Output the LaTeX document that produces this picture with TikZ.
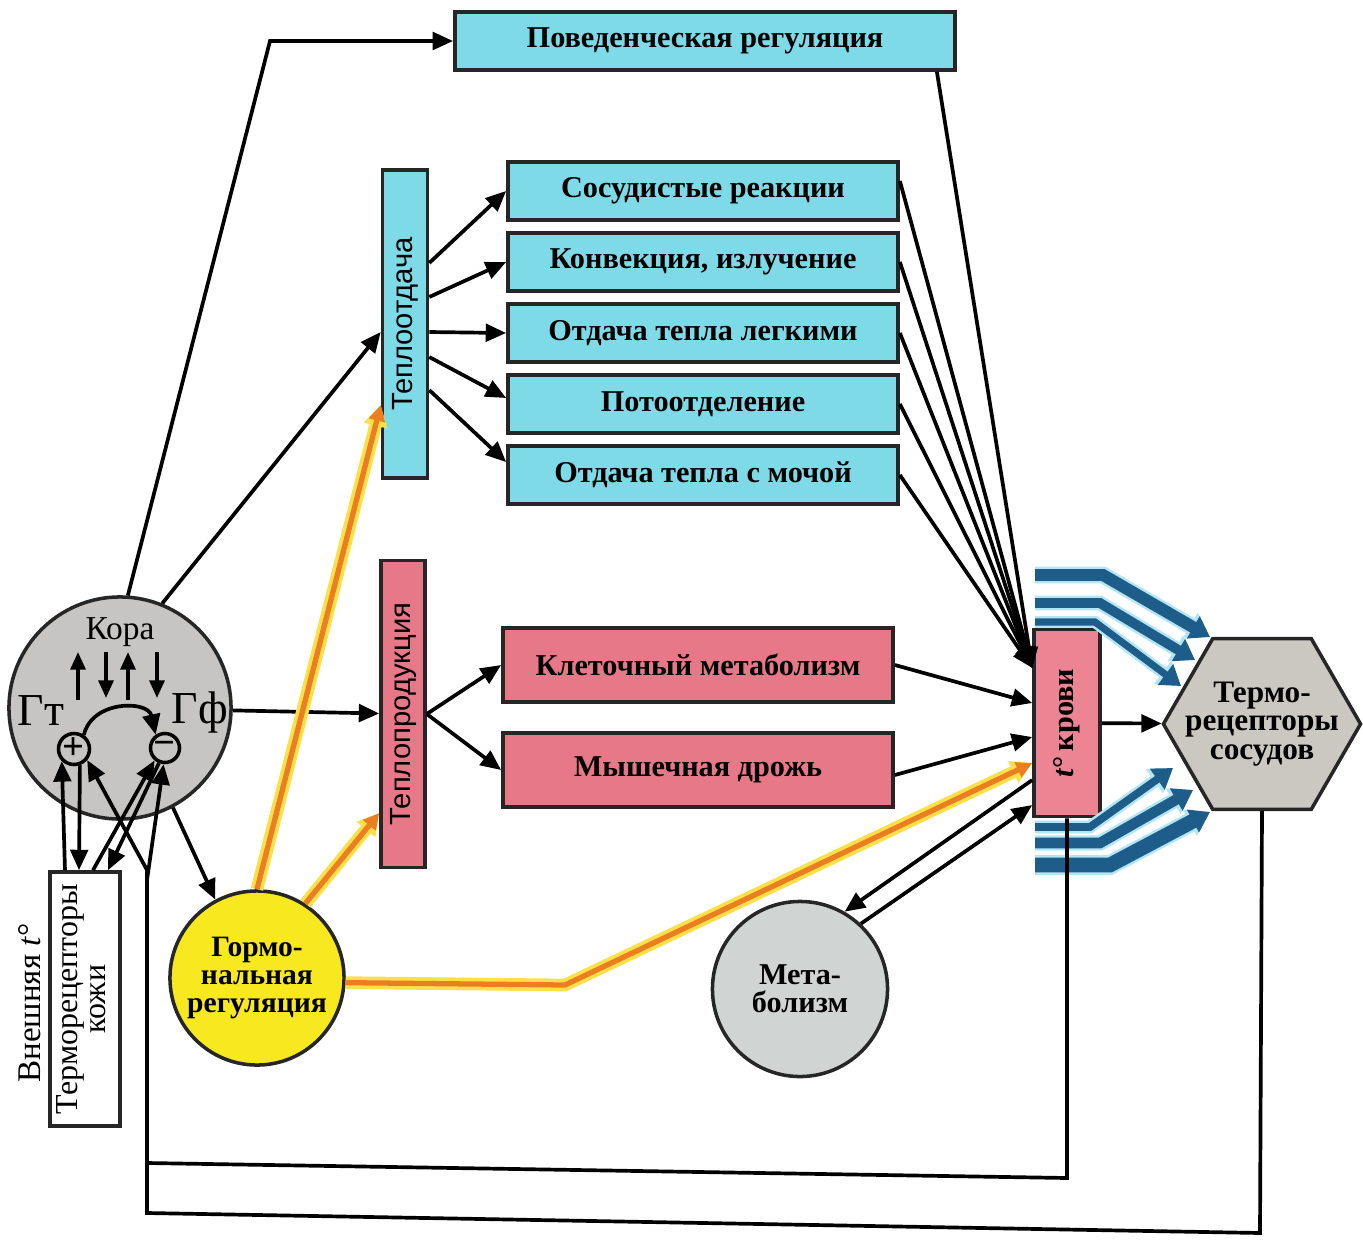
\documentclass[tikz,border=0pt]{standalone}
\usepackage{graphicx}
\usepackage{fontspec}
\setmainfont{Liberation Serif}
\setsansfont{Liberation Sans}
\usetikzlibrary{arrows.meta,shapes.geometric}
\definecolor{boxcyan}{RGB}{126,218,231}
\definecolor{boxpink}{RGB}{231,120,135}
\definecolor{bloodpink}{RGB}{236,132,148}
\definecolor{hormyellow}{RGB}{247,232,32}
\definecolor{hypgray}{RGB}{198,197,195}
\definecolor{metgray}{RGB}{208,213,212}
\definecolor{hexgray}{RGB}{203,199,193}
\definecolor{flowblue}{RGB}{30,92,138}
\definecolor{glowblue}{RGB}{178,230,244}
\definecolor{hormorange}{RGB}{236,126,34}
\definecolor{glowyellow}{RGB}{252,224,74}

\begin{document}
\begin{tikzpicture}[x=0.01cm, y=-0.01cm,
        every node/.style={font=\fontsize{8.6}{7.9}\selectfont\bfseries, inner sep=0pt},
        cbox/.style={draw=black!85, line width=1pt, fill=boxcyan, minimum width=3.9cm, minimum height=0.58cm},
        pbox/.style={draw=black!85, line width=1pt, fill=boxpink, minimum width=3.9cm, minimum height=0.74cm},
        ball/.style={circle, draw=black!85, line width=1pt, align=center},
        sign/.style={circle, draw=black, line width=1pt, fill=hypgray, minimum size=0.29cm, font=\fontsize{11}{11}\selectfont\bfseries},
        arr/.style={line width=1.05pt, -{Triangle[length=5.8pt,width=5pt]}},
        hpath/.style={line width=1.5pt, draw=hormorange, line join=round,
            preaction={draw=glowyellow, line width=3.6pt, -{Triangle[length=6pt,width=6.5pt]}},
            -{Triangle[length=4.5pt,width=4.5pt]}}]
                \useasboundingbox (0,0) rectangle (1363,1248);

                \node[cbox, minimum width=5cm] (behav) at (705,41) {Поведенческая регуляция};
                \node[draw=black!85, line width=1pt, fill=boxcyan, minimum width=0.45cm, minimum height=3.08cm,
                    font=\fontsize{8.3}{9}\selectfont\sffamily] (tpo) at (405,324) {\rotatebox{90}{Теплоотдача}};
                \node[cbox] (ss) at (703,191) {Сосудистые реакции};
                \node[cbox] (conv) at (703,262) {Конвекция, излучение};
                \node[cbox] (lung) at (703,333) {Отдача тепла легкими};
                \node[cbox] (sweat) at (703,404) {Потоотделение};
                \node[cbox] (urine) at (703,475) {Отдача тепла с мочой};

                \node[draw=black!85, line width=1pt, fill=boxpink, minimum width=0.44cm, minimum height=3.07cm,
                    font=\fontsize{8.3}{9}\selectfont\sffamily] (tprod) at (403,714) {\rotatebox{90}{Теплопродукция}};
                \node[pbox] (cell) at (698,665) {Клеточный метаболизм};
                \node[pbox] (shiver) at (698,770) {Мышечная дрожь};

                \node[draw=black!85, line width=1pt, fill=bloodpink, minimum width=0.66cm, minimum height=1.87cm]
                    (tkr) at (1067,723) {\rotatebox{90}{\textit{t}°\,крови}};
                \node[regular polygon, regular polygon sides=6, draw=black!85, line width=1pt, fill=hexgray,
                    minimum size=1.97cm] (hex) at (1262,724) {};
                \node[align=center, font=\fontsize{8.9}{8}\selectfont\bfseries] (hext) at (hex.center) {Термо-\\рецепторы\\сосудов};

                \node[ball, fill=hypgray, minimum size=2.22cm] (hyp) at (120,708) {};
                \node[font=\fontsize{9.5}{10}\selectfont] (kora) at (120,632) {Кора};
                \node[font=\fontsize{13}{14}\selectfont] (gt) at (41,711) {Гт};
                \node[font=\fontsize{13}{14}\selectfont] (gf) at (200,712) {Гф};
                \node[sign] (plus) at (74,749) {+};
                \node[sign] (minus) at (165,748) {−};

                \node[ball, fill=hormyellow, minimum size=1.74cm, font=\fontsize{8.4}{7.9}\selectfont\bfseries] (horm) at (257,978) {Гормо-\\нальная\\регуляция};
                \node[ball, fill=metgray, minimum size=1.75cm, font=\fontsize{8.6}{7.9}\selectfont\bfseries] (met) at (800,989) {Мета-\\болизм};

                \node[draw=black!85, line width=1pt, fill=white, minimum width=0.7cm, minimum height=2.54cm,
                    font=\fontsize{9.1}{8}\selectfont] (skin) at (85,999)
                    {\rotatebox{90}{\begin{tabular}{@{}c@{}}Терморецепторы\\кожи\end{tabular}}};
                \node[rotate=90, font=\fontsize{9.4}{10}\selectfont] (ext) at (30,1003) {Внешняя \textit{t}°};

                \foreach \x/\ya/\yb in {78/700/652, 106/652/698, 128/700/652, 157/652/698}
                    \draw[line width=1.05pt, -{Triangle[length=5pt,width=4.2pt]}] (\x,\ya) -- (\x,\yb);
                \draw[arr] (plus.55) .. controls (92,700) and (148,700) .. (minus.125);

                \coordinate (c1) at (270,41);
                \draw[arr] (hyp.86) -- (c1) -- (behav.west);
                \draw[arr] (hyp.68) -- ([yshift=-0.08cm]tpo.west);
                \draw[arr] (hyp) -- (tprod);
                \draw[arr] (hyp.-62) -- (horm.118);

                \foreach \s/\b/\t in {0.61/ss/0, 0.27/conv/0, -0.08/lung/0, -0.33/sweat/0.06, -0.66/urine/0.13}
                    \draw[arr] ([yshift=\s cm]tpo.east) -- ([yshift=\t cm]\b.west);
                \draw[arr] (tprod.east) -- (cell.west);
                \draw[arr] (tprod.east) -- (shiver.west);

                \coordinate (tin) at ([yshift=0.55cm]tkr.west);
                \draw[arr] ([xshift=-0.2cm]behav.south east) -- (tin);
                \draw[arr] ([yshift=0.1cm]ss.east) -- (tin);
                \foreach \b in {conv, lung, sweat, urine}
                    \draw[arr] (\b.east) -- (tin);
                \draw[arr] (cell.east) -- ([yshift=0.2cm]tkr.west);
                \draw[arr] ([yshift=-0.05cm]shiver.east) -- ([yshift=-0.14cm]tkr.west);

                \draw[arr] ([yshift=-0.57cm]tkr.west) -- (met.60);
                \draw[arr] (met.47) -- ([yshift=-0.82cm]tkr.west);

                \draw[hpath] (horm.90) -- ([yshift=-0.81cm]tpo.west);
                \draw[hpath] (horm.57) -- ([yshift=-0.99cm]tprod.west);
                \coordinate (hk) at (565,985);
                \draw[hpath] (horm.-3) -- (hk) -- ([yshift=-0.40cm]tkr.west);

                \foreach \ya/\xb/\xt/\yt/\w/\g in {575/1103/1210/637/3.4/4.8, 603/1100/1195/660/2.8/4.2,
                        622/1095/1181/686/2.0/3.4, 827/1090/1173/768/2.2/3.6, 843/1100/1193/790/3.0/4.4,
                        865/1110/1210/812/4.2/5.6} {
                    \draw[glowblue, line width=\g pt, -{Triangle[length=6.5pt,width=8pt]}] (1035,\ya) -- (\xb,\ya) -- (\xt,\yt);
                    \draw[flowblue, line width=\w pt, -{Triangle[length=5.5pt,width=7pt]}] (1035,\ya) -- (\xb,\ya) -- (\xt,\yt);
                }
                \draw[arr] (tkr) -- (hex);

                \coordinate (fa) at (1067,1178);
                \coordinate (fb) at (147,1163);
                \coordinate (fc) at (147,870);
                \draw[arr] (tkr.south) -- (fa) -- (fb) -- (fc) -- (plus.-40);
                \coordinate (fd) at (1260,1233);
                \coordinate (fe) at (147,1213);
                \coordinate (ff) at (147,880);
                \draw[arr] (hex.south) -- (fd) -- (fe) -- (ff) -- (minus.-95);

                \draw[arr] ([xshift=-0.2cm]skin.north) -- (plus.-135);
                \draw[arr] (plus.-70) -- ([xshift=-0.06cm]skin.north);
                \draw[arr] ([xshift=0.08cm]skin.north) -- (minus.-130);
                \draw[arr] (minus.-112) -- ([xshift=0.23cm]skin.north);

            \end{tikzpicture}
\end{document}
